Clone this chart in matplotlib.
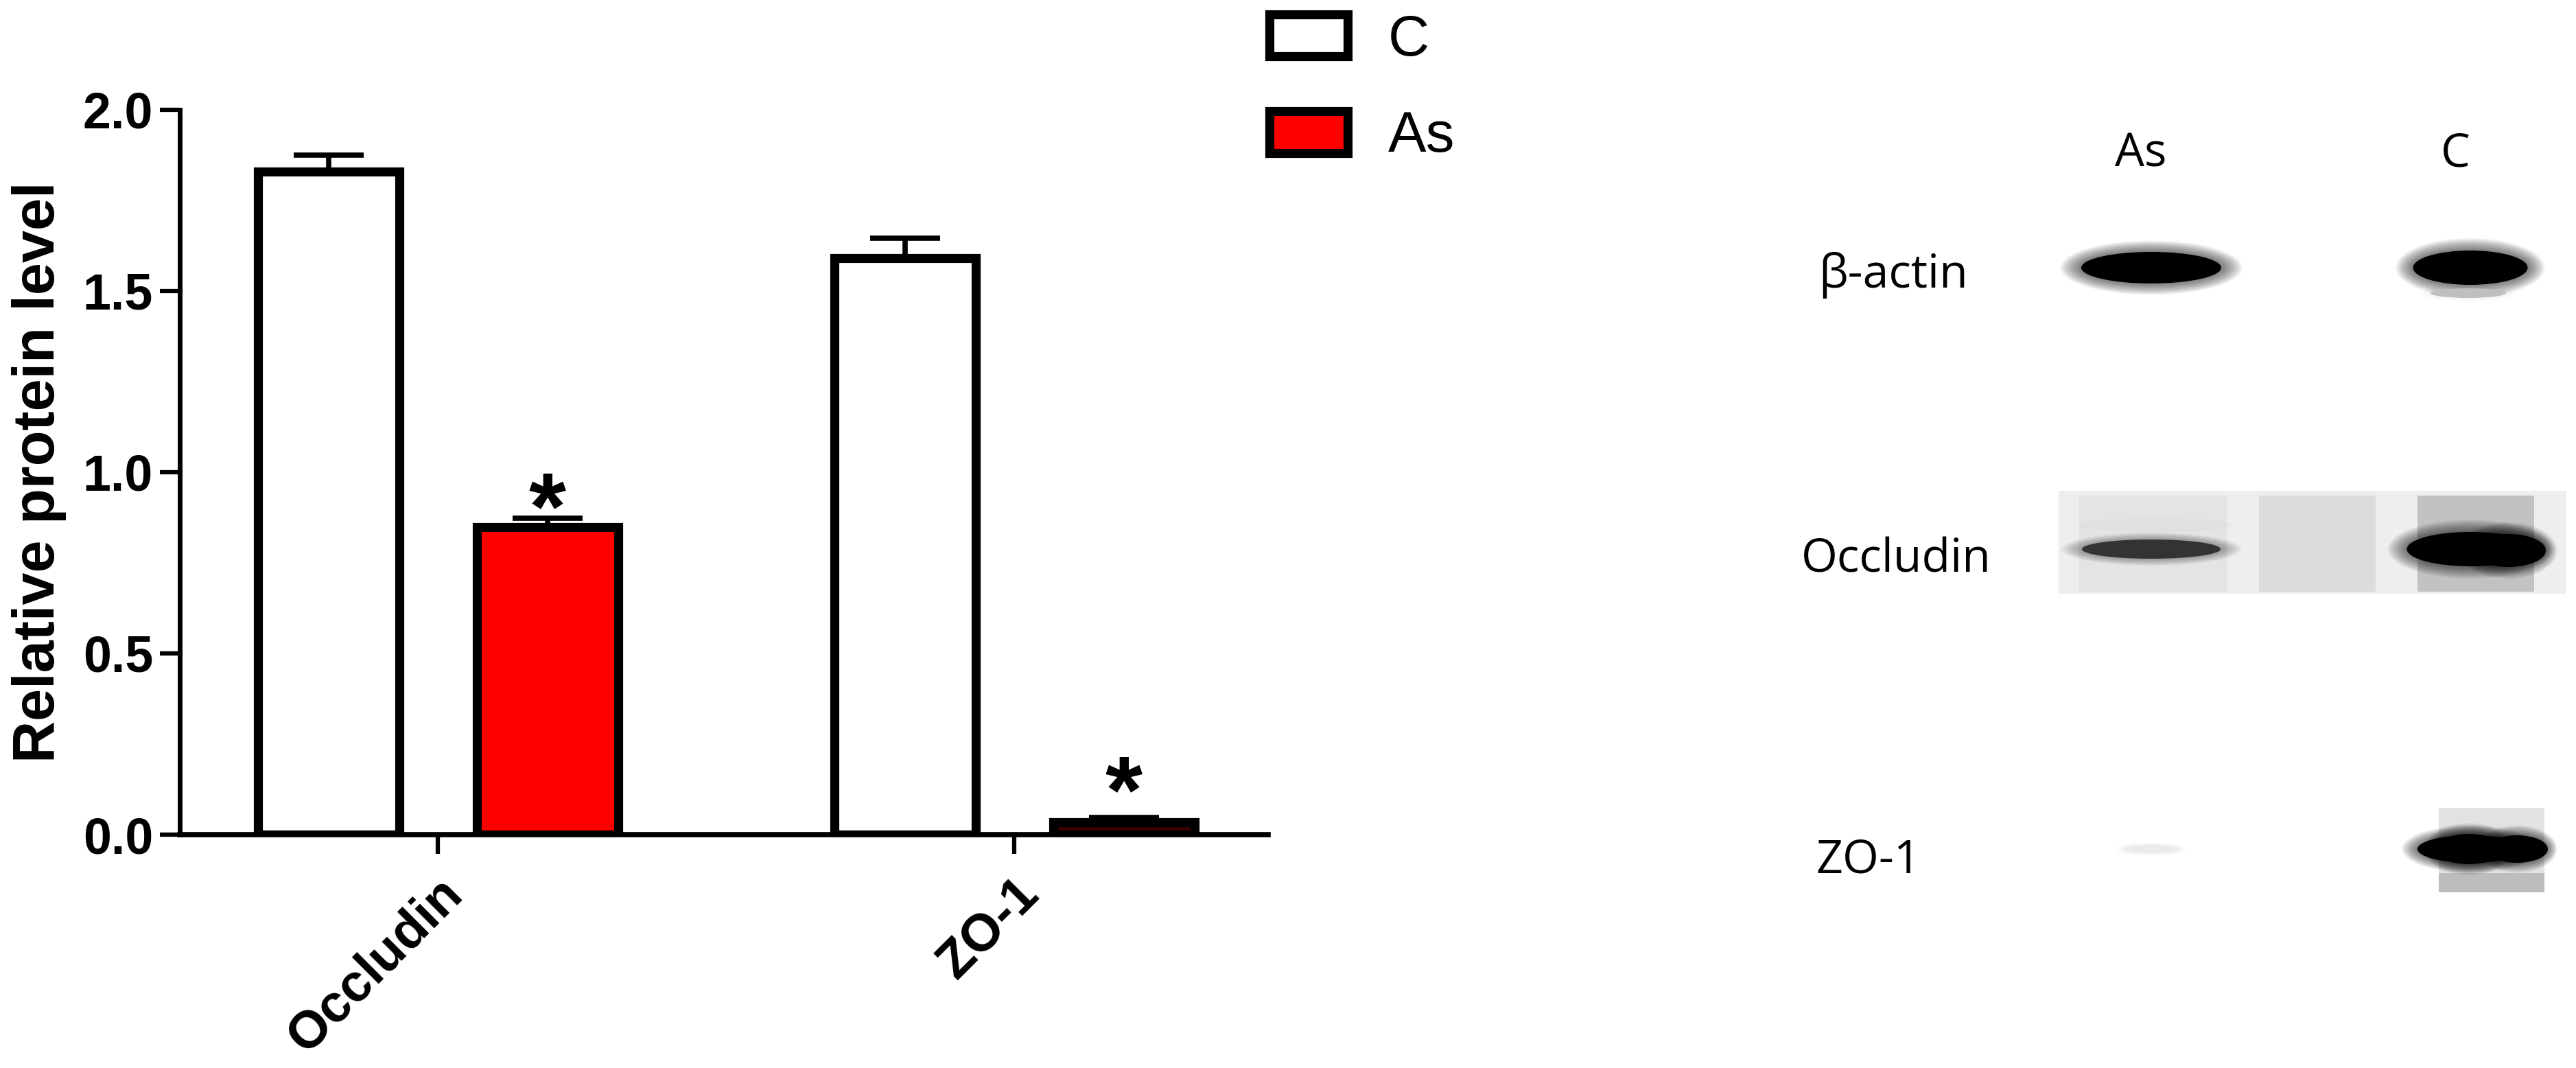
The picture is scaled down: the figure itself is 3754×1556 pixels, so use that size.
import matplotlib
matplotlib.use("Agg")
import matplotlib.pyplot as plt
import numpy as np
from matplotlib.patches import Ellipse, Rectangle

# bar chart data
proteins = ["Occludin", "ZO-1"]
groups = ["C", "As"]
c_mean = [1.83, 1.59]
c_err = [0.045, 0.055]
as_mean = [0.848, 0.035]
as_err = [0.025, 0.012]
star_y = [0.96, 0.178]
y_ticks = [0.0, 0.5, 1.0, 1.5, 2.0]

# western blot panel
blot_lanes = ["As", "C"]
blot_rows = ["β-actin", "Occludin", "ZO-1"]
band_darkness = [[1.0, 1.0], [0.8, 1.0], [0.08, 1.0]]

W, H = 3754, 1556
fig = plt.figure(figsize=(W / 100, H / 100), dpi=100)

arial = "Liberation Sans"
blot_font = ["Open Sans", "DejaVu Sans"]

# ---- bar chart ----
ax = fig.add_axes([262 / W, 1 - 1216 / H, (1848 - 262) / W, (1216 - 160) / H])
x = np.arange(len(proteins))
off, bw, lw = 0.19, 0.245, 9.5

bars_c = ax.bar(x - off, c_mean, bw, color="white", edgecolor="black", linewidth=lw, zorder=3)
bars_as = ax.bar(x + off, as_mean, bw, color="#ff0000", edgecolor="black", linewidth=lw, zorder=3)
bars_as[1].set_facecolor("#3a0000")  # very short bar looks almost black in the original
ax.errorbar(x - off, c_mean, yerr=[np.zeros(len(c_err)), c_err], fmt="none", ecolor="black",
            elinewidth=5.5, capsize=37, capthick=5.5, zorder=2)
ax.errorbar(x + off, as_mean, yerr=[np.zeros(len(as_err)), as_err], fmt="none", ecolor="black",
            elinewidth=5.5, capsize=37, capthick=5.5, zorder=2)

for xi, yi in zip(x + off, star_y):
    ax.annotate("*", xy=(xi, yi), xytext=(0, -55), textcoords="offset points", ha="center",
                va="baseline", fontsize=100, fontweight="bold", family=arial)

ax.set_xlim(-0.448, 1.44)
ax.set_ylim(0, 2)
ax.spines["top"].set_visible(False)
ax.spines["right"].set_visible(False)
ax.spines["left"].set_linewidth(5)
ax.spines["bottom"].set_linewidth(5.5)
ax.set_yticks(y_ticks)
ax.set_yticklabels([f"{t:.1f}" for t in y_ticks])
ax.set_xticks(x)
ax.set_xticklabels(proteins, rotation=45, ha="right", rotation_mode="anchor")
ax.tick_params(axis="y", length=21, width=4.5, pad=7, labelsize=53)
ax.tick_params(axis="x", length=20, width=4.5, pad=16, labelsize=55)
for lab in ax.get_xticklabels() + ax.get_yticklabels():
    lab.set_fontweight("bold")
    lab.set_family(arial)
ax.set_ylabel("Relative protein level", fontsize=61, fontweight="bold", family=arial)
ax.yaxis.set_label_coords(-0.104, 0.5)

ax.legend([bars_c, bars_as], groups, loc="upper left", bbox_to_anchor=(1850 / W, 1 - 20 / H),
          bbox_transform=fig.transFigure, frameon=False, prop={"family": arial, "size": 60},
          handlelength=1.37, handleheight=0.75, handletextpad=0.7, labelspacing=0.75,
          borderpad=0, borderaxespad=0)

# ---- western blot ----
bx = fig.add_axes([2550 / W, 0, 1 - 2550 / W, 1])
bx.set_xlim(2550, W)
bx.set_ylim(H, 0)
bx.axis("off")


def band(cx, cy, w, h, dark):
    g = str(1 - dark)
    for k in range(12, 0, -1):
        s = 1 + 0.025 * k
        bx.add_patch(Ellipse((cx, cy), w * s, h * (1 + 0.06 * k), color=g, alpha=0.05 * dark, lw=0))
    bx.add_patch(Ellipse((cx, cy), w, h, color=g, lw=0))


# occludin strip background
bx.add_patch(Rectangle((3000, 715), 740, 150, color="#eeeeee", lw=0))
bx.add_patch(Rectangle((3030, 722), 215, 140, color="#e4e4e4", lw=0))
bx.add_patch(Rectangle((3292, 722), 170, 140, color="#dcdcdc", lw=0))
bx.add_patch(Rectangle((3523, 722), 170, 140, color="#c2c2c2", lw=0))
# zo-1 C patch
bx.add_patch(Rectangle((3554, 1177), 154, 123, color="#e2e2e2", lw=0))
bx.add_patch(Rectangle((3554, 1272), 154, 28, color="#bdbdbd", lw=0))

lane_x = [3135, 3600]
row_y = [390, 800, 1237]
band_w = [[204, 167], [202, 185], [80, 154]]
band_h = [[46, 50], [28, 50], [12, 40]]
for r in range(len(blot_rows)):
    for l in range(len(blot_lanes)):
        band(lane_x[l], row_y[r], band_w[r][l], band_h[r][l], band_darkness[r][l])

# extra faint bands
band(3597, 427, 110, 14, 0.25)
band(3143, 765, 180, 12, 0.12)
# pinch shape of strong C bands
band(3598, 1237, 100, 44, 1.0)
band(3668, 1237, 90, 40, 1.0)
band(3655, 802, 110, 48, 1.0)

for lab, xc in zip(blot_lanes, [3120, 3578]):
    bx.text(xc, 242, lab, ha="center", va="baseline", fontsize=49, family=blot_font)
for lab, yb, xl in zip(blot_rows, [419, 833, 1271], [2650, 2625, 2646]):
    bx.text(xl, yb, lab, ha="left", va="baseline", fontsize=49, family=blot_font)

fig.savefig("out.png", dpi=100)
